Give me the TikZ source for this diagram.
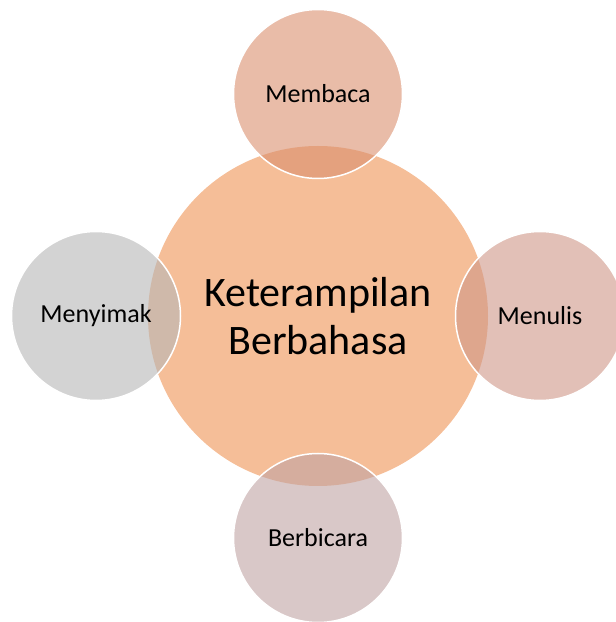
\documentclass[tikz,border=0pt]{standalone}
\usepackage{fontspec}
\setmainfont{Carlito}
\definecolor{hubpeach}{RGB}{245,190,152}
\definecolor{pdtop}{RGB}{218,143,110}
\definecolor{pdright}{RGB}{207,150,135}
\definecolor{pdleft}{RGB}{182,182,182}
\definecolor{pdbottom}{RGB}{192,163,163}
\usetikzlibrary{positioning}

\begin{document}
\begin{tikzpicture}[x=1pt,y=1pt,
  hubnode/.style={circle, fill=hubpeach, minimum size=340pt, inner sep=0pt, align=center, font=\fontsize{42}{48}\selectfont},
  petal/.style={circle, draw=white, line width=1.5pt, fill opacity=0.6, text opacity=1, minimum size=169pt, inner sep=0pt, font=\fontsize{26}{31}\selectfont}]
  \useasboundingbox (0,0) rectangle (616,622);
  \node[hubnode] (hub) at (318,306) {Keterampilan\\Berbahasa};
  % four skills round the hub
  \node[petal, fill=pdtop] (membaca) at (318,528) {Membaca};
  \node[petal, fill=pdright] (menulis) at (540,306) {Menulis};
  \node[petal, fill=pdbottom] (berbicara) at (318,84) {Berbicara};
  \node[petal, fill=pdleft] (menyimak) at (96,306) {Menyimak};
\end{tikzpicture}
\end{document}
